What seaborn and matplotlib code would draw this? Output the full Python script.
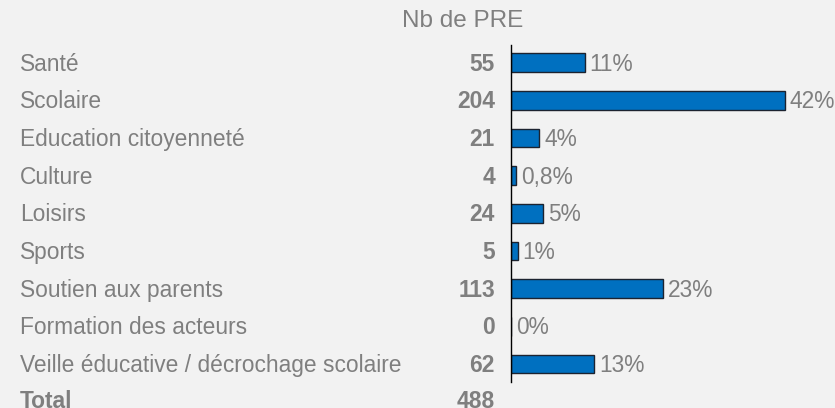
import pandas as pd
import seaborn as sns
import matplotlib.pyplot as plt
import matplotlib.transforms as mtransforms

# Data
categories = ['Santé', 'Scolaire', 'Education citoyenneté', 'Culture', 'Loisirs',
              'Sports', 'Soutien aux parents', 'Formation des acteurs',
              'Veille éducative / décrochage scolaire']
counts = [55, 204, 21, 4, 24, 5, 113, 0, 62]
pct_labels = ['11%', '42%', '4%', '0,8%', '5%', '1%', '23%', '0%', '13%']
total_label = 'Total'
total_value = 488

df = pd.DataFrame({'categorie': categories, 'nb': counts})

sns.set_style('white')
plt.rcParams['font.family'] = ['Liberation Sans', 'DejaVu Sans']

bg = '#f2f2f2'
grey = '#7f7f7f'

fig = plt.figure(figsize=(8.35, 4.08), dpi=100, facecolor=bg)
ax = fig.add_axes([511 / 835, 1 - 382 / 408, 324 / 835, (382 - 45) / 408])
ax.set_facecolor(bg)

sns.barplot(data=df, x='nb', y='categorie', orient='h', color='#0070c0',
            edgecolor='#1c2330', linewidth=1, width=0.5, saturation=1, ax=ax)

ax.set_xlim(0, 324 / 1.343)
ax.set_ylim(8.48, -0.47)
for s in ['top', 'right', 'bottom']:
    ax.spines[s].set_visible(False)
ax.spines['left'].set_color('black')
ax.spines['left'].set_linewidth(1)
ax.set_xticks([])
ax.set_yticks([])
ax.set_xlabel('')
ax.set_ylabel('')

trans = mtransforms.blended_transform_factory(fig.transFigure, ax.transData)
fs = 16.4
dy = 0.04  # nudge text a hair below the bar centre

for i, (cat, n, p) in enumerate(zip(categories, counts, pct_labels)):
    ax.text(20 / 835, i + dy, cat, transform=trans, ha='left', va='center',
            fontsize=fs, color=grey, clip_on=False)
    ax.text(495 / 835, i + dy, str(n), transform=trans, ha='right', va='center',
            fontsize=fs, color=grey, fontweight='bold', clip_on=False)
    ax.annotate(p, xy=(n, i + dy), xytext=(3.5, 0), textcoords='offset points',
                ha='left', va='center', fontsize=fs, color=grey,
                annotation_clip=False)

# the Total row sits just under the last bar and is cut by the figure edge
row_total = len(categories)
ax.text(20 / 835, row_total, total_label, transform=trans, ha='left', va='center',
        fontsize=fs, color=grey, fontweight='bold', clip_on=False)
ax.text(495 / 835, row_total, str(total_value), transform=trans, ha='right',
        va='center', fontsize=fs, color=grey, fontweight='bold', clip_on=False)

fig.text(463 / 835, 1 - 21 / 408, 'Nb de PRE', ha='center', va='center',
         fontsize=17.5, color=grey)

fig.savefig('out.png', dpi=100, facecolor=bg)
